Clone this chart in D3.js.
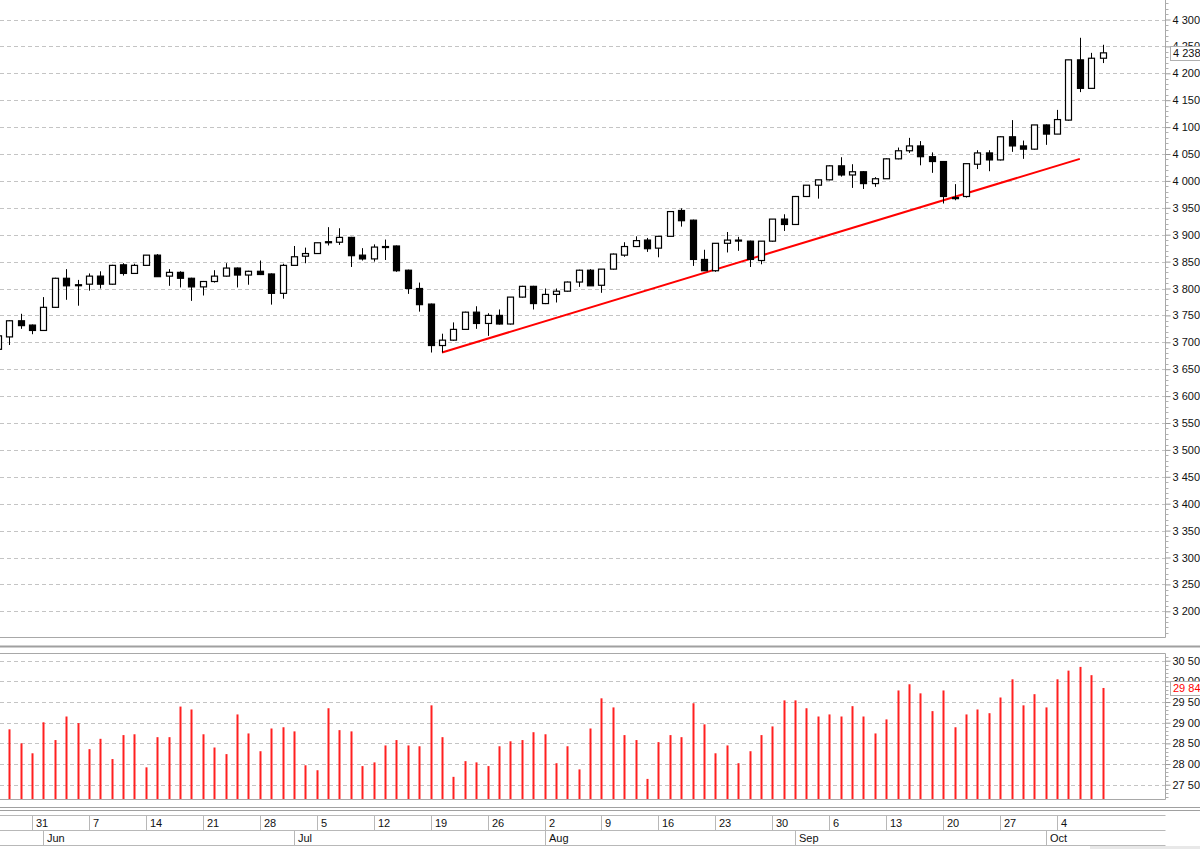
<!DOCTYPE html>
<html><head><meta charset="utf-8">
<script src="https://cdn.jsdelivr.net/npm/d3@7"></script>
<style>
html,body{margin:0;padding:0;background:#fff;}
svg{display:block;}
text{font-family:"Liberation Sans",Arial,sans-serif;font-size:11px;fill:#111;}
</style></head>
<body>
<svg id="chart" width="1200" height="849"></svg>
<script>
// ---------------- DATA ----------------
const dates = [
"2021-05-26","2021-05-27","2021-05-28","2021-05-31",
"2021-06-01","2021-06-02","2021-06-03","2021-06-04","2021-06-07","2021-06-08","2021-06-09","2021-06-10","2021-06-11",
"2021-06-14","2021-06-15","2021-06-16","2021-06-17","2021-06-18","2021-06-21","2021-06-22","2021-06-23","2021-06-24","2021-06-25",
"2021-06-28","2021-06-29","2021-06-30",
"2021-07-01","2021-07-02","2021-07-05","2021-07-06","2021-07-07","2021-07-08","2021-07-09","2021-07-12","2021-07-13","2021-07-14",
"2021-07-15","2021-07-16","2021-07-19","2021-07-20","2021-07-21","2021-07-22","2021-07-23","2021-07-26","2021-07-27","2021-07-28",
"2021-07-29","2021-07-30",
"2021-08-02","2021-08-03","2021-08-04","2021-08-05","2021-08-06","2021-08-09","2021-08-10","2021-08-11","2021-08-12","2021-08-13",
"2021-08-16","2021-08-17","2021-08-18","2021-08-19","2021-08-20","2021-08-23","2021-08-24","2021-08-25","2021-08-26","2021-08-27",
"2021-08-30","2021-08-31",
"2021-09-01","2021-09-02","2021-09-03","2021-09-06","2021-09-07","2021-09-08","2021-09-09","2021-09-10","2021-09-13","2021-09-14",
"2021-09-15","2021-09-16","2021-09-17","2021-09-20","2021-09-21","2021-09-22","2021-09-23","2021-09-24","2021-09-27","2021-09-28",
"2021-09-29","2021-09-30",
"2021-10-01","2021-10-04","2021-10-05","2021-10-06","2021-10-07","2021-10-08"
];
const openV = [3687,3710,3740,3732,3722,3765,3819,3807,3808,3823,3808,3844,3828,3843,3862,3823,3830,3819,3803,3813,3823,3838,3825,3832,3827,3791,3843,
3860,3865,3887,3886,3895,3862,3855,3878,3879,3834,3800,3771,3694,3704,3724,3756,3735,3750,3734,3784,3804,3772,3789,3795,3812,3834,
3806,3836,3862,3878,3890,3875,3897,3945,3927,3854,3833,3884,3890,3888,3852,3888,3929,3919,3971,3992,4002,4028,4011,4017,3995,4004,
4041,4056,4065,4045,4036,3969,3971,4031,4052,4039,4082,4065,4059,4104,4087,4113,4225,4172,4228];
const highV = [3716,3741,3753,3733,3784,3820,3836,3816,3828,3832,3844,3847,3846,3862,3864,3836,3832,3820,3814,3834,3847,3839,3833,3852,3828,3846,3879,
3876,3885,3914,3912,3896,3875,3882,3891,3880,3835,3811,3772,3716,3737,3757,3767,3754,3761,3784,3805,3805,3800,3800,3813,3835,3836,
3836,3865,3886,3897,3894,3897,3944,3949,3928,3872,3884,3905,3896,3889,3888,3929,3938,3972,3992,4002,4029,4044,4031,4018,4007,4042,
4062,4080,4074,4053,4037,3994,4032,4057,4057,4083,4113,4075,4104,4105,4132,4225,4266,4238,4253];
const lowV = [3683,3695,3725,3715,3721,3764,3779,3768,3796,3800,3807,3824,3827,3843,3822,3805,3802,3777,3787,3811,3822,3802,3807,3825,3770,3781,3843,
3847,3865,3880,3881,3840,3852,3850,3853,3831,3790,3757,3681,3681,3703,3724,3725,3712,3733,3733,3783,3761,3771,3774,3794,3803,3805,
3792,3835,3859,3877,3868,3858,3897,3915,3842,3833,3831,3867,3870,3840,3845,3887,3907,3918,3970,3967,4001,4008,3987,3985,3989,4004,
4040,4052,4029,4015,3958,3964,3969,4022,4018,4038,4054,4041,4058,4067,4087,4112,4165,4172,4219];
const closeV = [3712,3740,3731,3722,3765,3819,3805,3806,3823,3808,3843,3828,3843,3862,3822,3830,3819,3803,3813,3823,3838,3825,3832,3826,3791,3843,3859,
3865,3885,3885,3895,3861,3855,3877,3877,3833,3800,3770,3694,3704,3724,3756,3735,3750,3734,3784,3804,3772,3789,3795,3812,3834,3805,
3836,3864,3878,3889,3874,3897,3943,3926,3854,3833,3884,3890,3889,3854,3888,3929,3919,3971,3992,4002,4028,4011,4017,3995,4004,4041,
4056,4065,4045,4036,3971,3967,4032,4052,4039,4082,4065,4059,4104,4087,4114,4225,4172,4228,4238];
const volumeV = [2880,2884,2850,2826,2901,2858,2915,2899,2836,2861,2812,2870,2872,2792,2865,2865,2939,2932,2872,2840,2824,2920,2874,2831,2886,2889,2879,
2797,2785,2935,2882,2879,2795,2804,2845,2858,2845,2843,2942,2865,2769,2807,2804,2795,2843,2855,2858,2877,2872,2802,2843,2787,2886,
2959,2937,2870,2858,2764,2853,2870,2865,2947,2896,2826,2845,2802,2831,2870,2891,2954,2954,2935,2915,2920,2915,2940,2915,2874,2908,
2978,2993,2971,2928,2978,2889,2920,2932,2923,2961,3005,2942,2969,2937,3005,3026,3035,3015,2984];

const priceTicks = [3200,3250,3300,3350,3400,3450,3500,3550,3600,3650,3700,3750,3800,3850,3900,3950,4000,4050,4100,4150,4200,4250,4300];
const volumeTicks = [2750,2800,2850,2900,2950,3000,3050];
const weekTicks = ["2021-05-31","2021-06-07","2021-06-14","2021-06-21","2021-06-28","2021-07-05","2021-07-12","2021-07-19","2021-07-26",
"2021-08-02","2021-08-09","2021-08-16","2021-08-23","2021-08-30","2021-09-06","2021-09-13","2021-09-20","2021-09-27","2021-10-04"];
const weekLabels = ["31","7","14","21","28","5","12","19","26","2","9","16","23","30","6","13","20","27","4"];
const monthTicks = ["2021-06-01","2021-07-01","2021-08-02","2021-09-01","2021-10-01"];
const monthLabels = ["Jun","Jul","Aug","Sep","Oct"];
const trendStart = {date:"2021-07-20", value:3681};
const trendEnd = {date:"2021-10-06", value:4041};
const lastPrice = 4238;
const lastVolume = 2984;

// ---------------- LAYOUT ----------------
const W = 1200, plotR = 1165.5;
const mainTop = 0, mainBot = 637.5;
const volTop = 653.5, volBot = 799.5;
const gridCol = "#c4c4c4", frameCol = "#a8a8a8";

const svg = d3.select("#chart");
const step = 11.39;
const x = d3.scaleBand().domain(dates).range([-7.9, -7.9 + step*dates.length]).padding(0);
const cx = d => x(d) + x.bandwidth()/2;
const y = d3.scaleLinear().domain([3700, 4300]).range([342.3, 19.5]);
const yv = d3.scaleLinear().domain([2750, 3050]).range([784.7, 660.7]);

const fmtP = d3.formatLocale({decimal:",", thousands:" ", grouping:[3], currency:["",""]}).format(",d");
const fmtV = v => Math.floor(v/100) + " " + String(v%100).padStart(2,"0");

svg.append("defs").html(
 `<clipPath id="cMain"><rect x="0" y="${mainTop}" width="${plotR}" height="${mainBot-mainTop}"/></clipPath>
  <clipPath id="cVol"><rect x="0" y="${volTop}" width="${plotR}" height="${volBot-volTop}"/></clipPath>`);

// ---- main grid ----
const gMain = svg.append("g").attr("clip-path","url(#cMain)");
gMain.selectAll("line.grid").data(priceTicks).join("line")
  .attr("x1",0).attr("x2",plotR).attr("y1",d=>Math.round(y(d))+0.5).attr("y2",d=>Math.round(y(d))+0.5)
  .attr("stroke",gridCol).attr("stroke-dasharray","4,3").attr("stroke-width",1);

// ---- trend line ----
gMain.append("line")
  .attr("x1",cx(trendStart.date)).attr("y1",y(trendStart.value))
  .attr("x2",cx(trendEnd.date)).attr("y2",y(trendEnd.value))
  .attr("stroke","#ff0000").attr("stroke-width",2);

// ---- candles ----
const idx = d3.range(dates.length);
const bw = 7;
const cg = gMain.selectAll("g.c").data(idx).join("g");
cg.append("line")
  .attr("x1",i=>Math.round(cx(dates[i]))+0.5).attr("x2",i=>Math.round(cx(dates[i]))+0.5)
  .attr("y1",i=>y(highV[i])).attr("y2",i=>y(lowV[i]))
  .attr("stroke","#000").attr("stroke-width",1);
cg.append("rect")
  .attr("x",i=>Math.round(cx(dates[i]))+0.5-bw/2+0.5)
  .attr("width",bw-1)
  .attr("y",i=>y(Math.max(openV[i],closeV[i])))
  .attr("height",i=>Math.max(1,Math.abs(y(openV[i])-y(closeV[i]))))
  .attr("fill",i=>closeV[i]>=openV[i]?"#fff":"#000")
  .attr("stroke","#000").attr("stroke-width",1.2);

// ---- main frame ----
svg.append("line").attr("x1",plotR).attr("x2",plotR).attr("y1",0).attr("y2",mainBot).attr("stroke",frameCol);
svg.append("line").attr("x1",0).attr("x2",plotR).attr("y1",mainBot).attr("y2",mainBot).attr("stroke",frameCol);

// ---- price axis ----
const pAxis = d3.axisRight(y).tickValues(priceTicks).tickSize(5).tickFormat(fmtP);
const pa = svg.append("g").attr("transform",`translate(${plotR},0)`).call(pAxis);
pa.select(".domain").remove();
pa.selectAll(".tick line").attr("stroke","#999");
pa.selectAll(".tick text").attr("x",7).attr("fill","#111")
  .style("font-family",'"Liberation Sans",Arial,sans-serif').style("font-size","11px");
const minorP = d3.range(3160, 4340, 10).filter(v=>v%50!==0);
pa.selectAll("line.minor").data(minorP).join("line")
  .attr("x1",0).attr("x2",3).attr("y1",d=>Math.round(y(d))+0.5).attr("y2",d=>Math.round(y(d))+0.5).attr("stroke","#b0b0b0");
// last price box
const lpY = y(lastPrice);
svg.append("rect").attr("x",1170.5).attr("y",Math.round(lpY)-6.5).attr("width",34).attr("height",14)
  .attr("fill","#fff").attr("stroke","#b0b0b0");
svg.append("text").attr("x",1173).attr("y",lpY).attr("dy","0.35em").text(fmtP(lastPrice));

// ---- separator ----
svg.append("line").attr("x1",0).attr("x2",W).attr("y1",646.5).attr("y2",646.5).attr("stroke","#a0a0a0").attr("stroke-width",2);

// ---- volume panel ----
const gVol = svg.append("g").attr("clip-path","url(#cVol)");
gVol.selectAll("line.grid").data(volumeTicks).join("line")
  .attr("x1",0).attr("x2",plotR).attr("y1",d=>Math.round(yv(d))+0.5).attr("y2",d=>Math.round(yv(d))+0.5)
  .attr("stroke",gridCol).attr("stroke-dasharray","4,3");
gVol.selectAll("rect.vb").data(idx).join("rect")
  .attr("x",i=>Math.round(cx(dates[i]))-0.5).attr("width",2)
  .attr("y",i=>yv(volumeV[i])).attr("height",i=>volBot-yv(volumeV[i]))
  .attr("fill","#ff2020");

svg.append("line").attr("x1",0).attr("x2",plotR).attr("y1",volTop).attr("y2",volTop).attr("stroke",frameCol);
svg.append("line").attr("x1",plotR).attr("x2",plotR).attr("y1",volTop).attr("y2",volBot).attr("stroke",frameCol);
svg.append("line").attr("x1",0).attr("x2",plotR).attr("y1",volBot).attr("y2",volBot).attr("stroke",frameCol);

const vAxis = d3.axisRight(yv).tickValues(volumeTicks).tickSize(5).tickFormat(fmtV);
const va = svg.append("g").attr("transform",`translate(${plotR},0)`).call(vAxis);
va.select(".domain").remove();
va.selectAll(".tick line").attr("stroke","#999");
va.selectAll(".tick text").attr("x",7).attr("fill","#111")
  .style("font-family",'"Liberation Sans",Arial,sans-serif').style("font-size","11px");
const minorV = d3.range(2720, 3070, 10).filter(v=>v%50!==0);
va.selectAll("line.minor").data(minorV).join("line")
  .attr("x1",0).attr("x2",3).attr("y1",d=>Math.round(yv(d))+0.5).attr("y2",d=>Math.round(yv(d))+0.5).attr("stroke","#b0b0b0");
const lvY = yv(lastVolume);
svg.append("rect").attr("x",1170.5).attr("y",Math.round(lvY)-6.5).attr("width",34).attr("height",14)
  .attr("fill","#fff").attr("stroke","#b0b0b0");
svg.append("text").attr("x",1173).attr("y",lvY).attr("dy","0.35em").style("fill","#ff0000").text(fmtV(lastVolume));

// ---- date axis ----
svg.append("line").attr("x1",0).attr("x2",W).attr("y1",807.5).attr("y2",807.5).attr("stroke","#a0a0a0");
svg.append("line").attr("x1",0).attr("x2",W).attr("y1",810.5).attr("y2",810.5).attr("stroke","#a0a0a0");
svg.append("line").attr("x1",0).attr("x2",plotR).attr("y1",815.5).attr("y2",815.5).attr("stroke","#b8b8b8");
svg.append("line").attr("x1",0).attr("x2",plotR).attr("y1",830.5).attr("y2",830.5).attr("stroke","#b8b8b8");
svg.append("line").attr("x1",0).attr("x2",plotR).attr("y1",845.5).attr("y2",845.5).attr("stroke","#b8b8b8");

const gw = svg.append("g");
gw.selectAll("line").data(weekTicks).join("line")
  .attr("x1",d=>Math.round(cx(d))+0.5).attr("x2",d=>Math.round(cx(d))+0.5).attr("y1",815.5).attr("y2",830.5).attr("stroke","#b8b8b8");
gw.selectAll("text").data(weekTicks).join("text")
  .attr("x",d=>Math.round(cx(d))+4).attr("y",823).attr("dy","0.35em").text((d,i)=>weekLabels[i]);
const gm = svg.append("g");
gm.selectAll("line").data(monthTicks).join("line")
  .attr("x1",d=>Math.round(cx(d))+0.5).attr("x2",d=>Math.round(cx(d))+0.5).attr("y1",830.5).attr("y2",845.5).attr("stroke","#b8b8b8");
gm.selectAll("text").data(monthTicks).join("text")
  .attr("x",d=>Math.round(cx(d))+4).attr("y",838).attr("dy","0.35em").text((d,i)=>monthLabels[i]);
svg.append("rect").attr("x",1090).attr("y",846).attr("width",110).attr("height",3).attr("fill","#e8e8e8");
</script>
</body></html>
